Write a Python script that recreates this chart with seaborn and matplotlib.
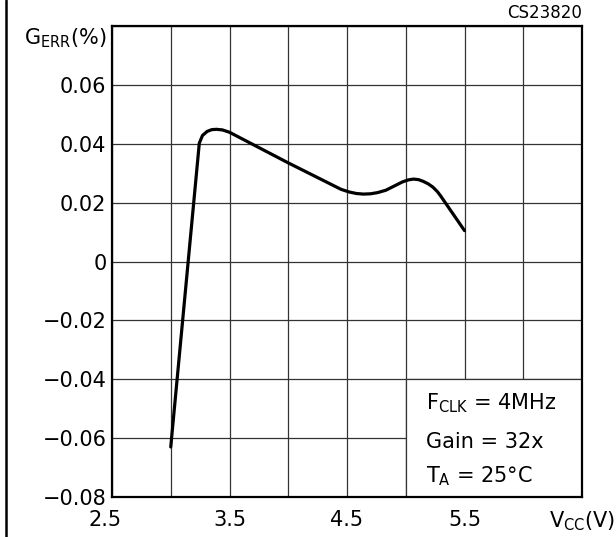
import numpy as np
import pandas as pd
import matplotlib
matplotlib.use("Agg")
import matplotlib.pyplot as plt
import matplotlib.transforms as mtransforms
from matplotlib.patches import Rectangle
from matplotlib.lines import Line2D
import seaborn as sns

# Gain error vs supply voltage
vcc = [3.0, 3.243, 3.27, 3.31, 3.35, 3.39, 3.44, 3.50, 4.0, 4.45, 4.52, 4.58,
       4.64, 4.70, 4.76, 4.83, 4.90, 4.97, 5.02, 5.065, 5.11, 5.15, 5.19, 5.23,
       5.27, 5.30, 5.5]
gerr = [-0.063, 0.0402, 0.0428, 0.0442, 0.0448, 0.0449, 0.0447, 0.0439, 0.0335, 0.0245,
        0.0236, 0.0231, 0.0229, 0.0230, 0.0234, 0.0242, 0.0256, 0.0270, 0.0277, 0.0280,
        0.0278, 0.0272, 0.0264, 0.0253, 0.0237, 0.0221, 0.0105]

x_ticks = [2.5, 3.0, 3.5, 4.0, 4.5, 5.0, 5.5, 6.0, 6.5]
x_labels = ["2.5", "", "3.5", "", "4.5", "", "5.5", "", r"V$_{\rm CC}$(V)"]
y_ticks = [-0.08, -0.06, -0.04, -0.02, 0.0, 0.02, 0.04, 0.06, 0.08]
y_labels = ["\u22120.08", "\u22120.06", "\u22120.04", "\u22120.02", "0",
            "0.02", "0.04", "0.06", r"G$_{\rm ERR}$(%)"]
notes = [r"F$_{\rm CLK}$ = 4MHz", "Gain = 32x", r"T$_{\rm A}$ = 25°C"]
note_y = [-0.0481, -0.0613, -0.0729]

sns.set_style("white")
plt.rcParams["font.family"] = ["DejaVu Sans"]
plt.rcParams["mathtext.default"] = "regular"
plt.rcParams["text.color"] = "black"

fig = plt.figure(figsize=(6.16, 5.37), dpi=100)
ax = fig.add_axes([112 / 616, 40 / 537, 470 / 616, 471 / 537])

df = pd.DataFrame({"Vcc": vcc, "Gerr": gerr})
sns.lineplot(data=df, x="Vcc", y="Gerr", sort=False, color="black", lw=2.3,
             ax=ax, zorder=3)

ax.set_xlim(2.5, 6.5)
ax.set_ylim(-0.08, 0.08)
ax.set_xticks(x_ticks)
ax.set_xticklabels(x_labels)
ax.set_yticks(y_ticks)
ax.set_yticklabels(y_labels)
ax.tick_params(length=0, labelsize=15, colors="black")
ax.tick_params(axis="x", pad=9)
ax.tick_params(axis="y", pad=4)
ax.set_xlabel("")
ax.set_ylabel("")

# first x label sits a bit left of the corner, top y label hangs below the frame top
xl = ax.get_xticklabels()
xl[0].set_transform(xl[0].get_transform() +
                    mtransforms.ScaledTranslation(-7 / 100, 0, fig.dpi_scale_trans))
ax.get_yticklabels()[-1].set_va("top")

ax.set_axisbelow(True)
ax.grid(True, color="#333333", lw=0.9)
# blank box for the conditions text
ax.add_patch(Rectangle((5.0, -0.08), 1.5, 0.04, facecolor="white",
                       edgecolor="#333333", lw=0.9, zorder=1))

for t, y in zip(notes, note_y):
    ax.text(5.17, y, t, fontsize=15, va="center", ha="left", color="black", zorder=4)

for s in ax.spines.values():
    s.set_color("black")
    s.set_linewidth(1.6)

fig.text(582 / 616, 1 - 13 / 537, "CS23820", fontsize=12, ha="right", va="center",
         color="black")
fig.add_artist(Line2D([6 / 616, 6 / 616], [0, 1], color="black", lw=1.8))

fig.savefig("out.png", dpi=100)
